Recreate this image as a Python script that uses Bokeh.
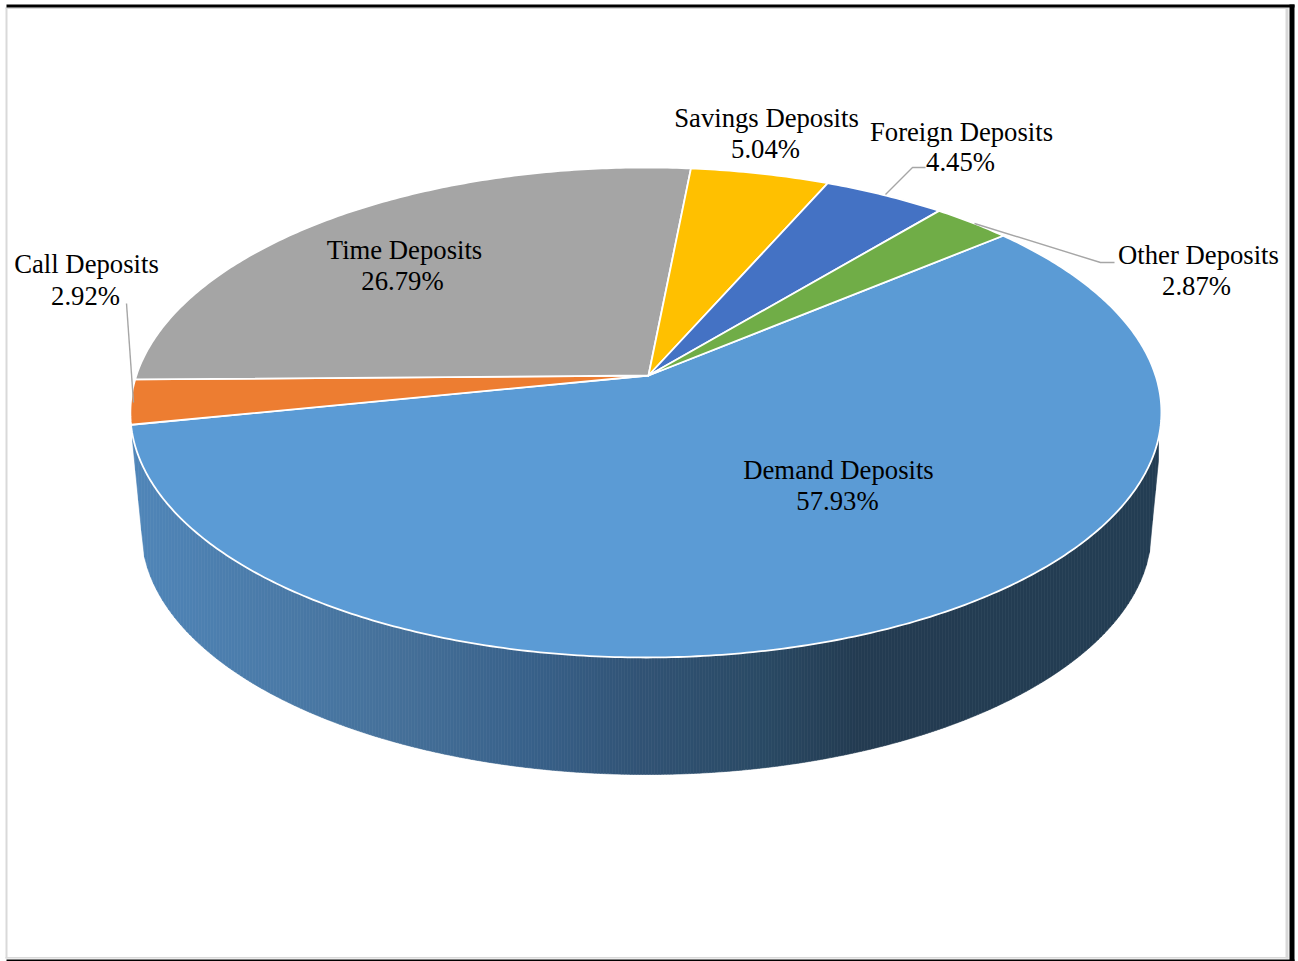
import numpy as np
from bokeh.core.properties import value
from bokeh.embed import file_html
from bokeh.models import ColumnDataSource, Range1d
from bokeh.plotting import figure
from bokeh.resources import INLINE

# Deposit mix, listed clockwise from the boundary at the upper right
categories = ["Demand Deposits", "Call Deposits", "Time Deposits",
              "Savings Deposits", "Foreign Deposits", "Other Deposits"]
shares = [57.93, 2.92, 26.79, 5.04, 4.45, 2.87]
slice_colors = ["#5B9BD5", "#ED7D31", "#A5A5A5", "#FFC000", "#4472C4", "#70AD47"]

# Name line and percentage line centres for every label, in page pixels
label_name_x = [838, 86, 404, 766, 961, 1198]
label_name_y = [469, 263, 249, 117, 131, 254]
label_pct_x = [837, 85, 402, 765, 960, 1196]
label_pct_y = [500, 295, 280, 148, 161, 285]

# Leader lines for the labels that sit outside the pie
leader_xs = [[126, 133], [885, 912, 925], [974, 1100, 1114]]
leader_ys = [[303, 402], [194, 167, 167], [223, 262, 262]]

# Perspective model of the tilted disc
APEX_X, APEX_Y = 648.0, 375.0
PERSP_A, PERSP_B = 509.6, 239.4
PERSP_K, PERSP_M = 0.151, 0.005
START_DEG = 40.0


def rim_point(theta):
    """Project a point of the unit circle onto the page."""
    cx, cy = np.cos(theta), np.sin(theta)
    w = 1 + PERSP_K * cy + PERSP_M * cx
    return APEX_X + PERSP_A * cx / w, APEX_Y - PERSP_B * cy / w


# Side wall outline: top disc ellipse and the smaller lower ellipse
TOP_CX, TOP_CY, TOP_RX = 645.5, 412.0, 515.5
LOW_CX, LOW_CY, LOW_RX, LOW_RY = 646.0, 530.0, 505.0, 244.0
WALL_LEFT, WALL_RIGHT = 132.0, 1160.0
WALL_TOP_Y = 440.0

grad_x = [132, 400, 530, 640, 760, 860, 1160]
grad_r = [0x50, 0x45, 0x38, 0x31, 0x2A, 0x23, 0x24]
grad_g = [0x86, 0x70, 0x61, 0x53, 0x4A, 0x3B, 0x3E]
grad_b = [0xB9, 0x99, 0x8A, 0x75, 0x65, 0x51, 0x54]


def wall_bottom(x):
    dx = x - LOW_CX
    if abs(dx) >= LOW_RX:
        edge = WALL_LEFT if dx < 0 else WALL_RIGHT
        tip = LOW_CX + (-LOW_RX if dx < 0 else LOW_RX)
        t = np.clip((x - edge) / (tip - edge), 0, 1)
        return WALL_TOP_Y + t * (LOW_CY - WALL_TOP_Y)
    return LOW_CY + LOW_RY * np.sqrt(1 - (dx / LOW_RX) ** 2)


def wall_color(x):
    r = np.interp(x, grad_x, grad_r)
    g = np.interp(x, grad_x, grad_g)
    b = np.interp(x, grad_x, grad_b)
    return "#%02X%02X%02X" % (int(r), int(g), int(b))


p = figure(width=1298, height=961, output_backend="svg", toolbar_location=None,
           x_range=Range1d(0, 1298), y_range=Range1d(961, 0),
           min_border=0, outline_line_color=None, background_fill_color="white")
p.axis.visible = False
p.grid.visible = False

# Page frame: pale inner rule with heavier black edges
p.quad(left=[5, 5, 5, 1285], right=[7, 1288, 1288, 1288],
       top=[7, 7, 956.5, 7], bottom=[958, 8.5, 958, 958],
       fill_color="#D9D9D9", line_color=None)
p.quad(left=[6, 1289, 6], right=[1294, 1294, 1294],
       top=[4, 4, 959], bottom=[7, 961, 961],
       fill_color="black", line_color=None)

# Side wall as narrow trapezoids so the shading runs left to right
edges = np.arange(WALL_LEFT, WALL_RIGHT + 0.1, 3.0)
wall_xs, wall_ys, wall_cols = [], [], []
for x0, x1 in zip(edges[:-1], edges[1:]):
    wall_xs.append([x0, x1, x1, x0])
    wall_ys.append([TOP_CY, TOP_CY, wall_bottom(x1), wall_bottom(x0)])
    wall_cols.append(wall_color((x0 + x1) / 2))
p.patches(wall_xs, wall_ys, fill_color=wall_cols, line_color=wall_cols, line_width=0.6)

# Top face: each wedge spans an angle proportional to its share
total = sum(shares)
angle = np.radians(START_DEG)
slice_xs, slice_ys = [], []
for share in shares:
    sweep = 2 * np.pi * share / total
    thetas = np.linspace(angle, angle - sweep, max(int(share * 6), 12))
    rx, ry = rim_point(thetas)
    slice_xs.append([APEX_X] + list(rx))
    slice_ys.append([APEX_Y] + list(ry))
    angle -= sweep
p.patches(slice_xs, slice_ys, fill_color=slice_colors, line_color="white",
          line_width=1.8, line_join="round")

p.multi_line(leader_xs, leader_ys, line_color="#A6A6A6", line_width=1.4)

font = dict(text_font=value("Liberation Serif"), text_font_size="26.7px",
            text_color="black", text_align="center", text_baseline="middle")
p.text(x="x", y="y", text="t", source=ColumnDataSource(
    dict(x=label_name_x, y=label_name_y, t=categories)), **font)
p.text(x="x", y="y", text="t", source=ColumnDataSource(
    dict(x=label_pct_x, y=label_pct_y, t=[f"{s:.2f}%" for s in shares])), **font)

open("out.html", "w").write(file_html(p, INLINE))
